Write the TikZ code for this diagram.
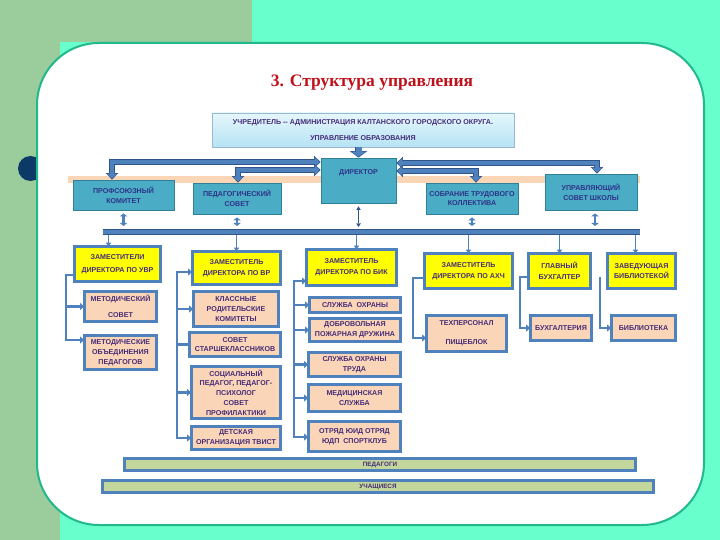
\documentclass[tikz,border=0pt]{standalone}
\usepackage{fontspec}
\setmainfont{Liberation Serif}
\newfontfamily\boxfont{Liberation Sans}
\usepackage{xcolor}
\usepackage{tikz}
\usetikzlibrary{arrows.meta}

\definecolor{bgaqua}{HTML}{69FFCC}
\definecolor{bggreen}{HTML}{9BCC9B}
\definecolor{cardline}{HTML}{1FB98C}
\definecolor{navy}{HTML}{0B3A66}
\definecolor{titlered}{HTML}{C0101A}
\definecolor{tealfill}{HTML}{4BACC6}
\definecolor{tealline}{HTML}{31809A}
\definecolor{tealtext}{HTML}{2E3288}
\definecolor{bandpeach}{HTML}{FAD6B6}
\definecolor{arrowfill}{HTML}{4F81BD}
\definecolor{arrowline}{HTML}{2F5489}
\definecolor{boxyellow}{HTML}{FFFF00}
\definecolor{boxpeach}{HTML}{FBD5B7}
\definecolor{barfill}{HTML}{C3D69B}
\definecolor{textpurple}{HTML}{452C78}
\definecolor{foundtop}{HTML}{E6F7FC}
\definecolor{foundbot}{HTML}{B5E3F4}
\definecolor{foundline}{HTML}{9AB9D0}

\tikzset{
  boxtext/.style={font=\boxfont\bfseries\fontsize{7.1}{9.8}\selectfont, text=textpurple, align=center, inner sep=0pt},
  tealbox/.style={boxtext, fill=tealfill, draw=tealline, line width=0.8pt, text=tealtext},
  yellowbox/.style={boxtext, fill=boxyellow, draw=arrowline, double=arrowfill, double distance=2.2pt, line width=0.6pt},
  peachbox/.style={boxtext, fill=boxpeach, draw=arrowline, double=arrowfill, double distance=2.2pt, line width=0.6pt},
  greenbar/.style={boxtext, font=\boxfont\bfseries\fontsize{6.3}{7}\selectfont, fill=barfill, draw=arrowline, double=arrowfill, double distance=2.2pt, line width=0.6pt},
  founder/.style={boxtext, top color=foundtop, bottom color=foundbot, draw=foundline, line width=0.6pt},
  bigarrow/.style={draw=arrowfill, line width=3.8pt, line join=miter,
    {Triangle[width=10pt,length=5pt,line width=0pt]}-{Triangle[width=10pt,length=5pt,line width=0pt]},
    shorten <=1pt, shorten >=1pt,
    preaction={draw=arrowline, line width=5.6pt, shorten <=0pt, shorten >=0pt,
      {Triangle[width=12.5pt,length=6.5pt,line width=0pt]}-{Triangle[width=12.5pt,length=6.5pt,line width=0pt]}}},
  feedarrow/.style={draw=arrowfill, line width=6pt,
    -{Triangle[width=15pt,length=5pt,line width=0pt]}, shorten >=1pt,
    preaction={draw=arrowline, line width=7.6pt, shorten >=0pt,
      -{Triangle[width=17.5pt,length=6.5pt,line width=0pt]}}},
  updown/.style={draw=arrowfill, line width=2.8pt, shorten <=3pt, shorten >=3pt,
    {Triangle[width=7.5pt,length=3pt,line width=0pt]}-{Triangle[width=7.5pt,length=3pt,line width=0pt]}},
  thinupdown/.style={draw=arrowline, line width=1.2pt, shorten <=3pt, shorten >=2pt,
    {Triangle[width=4.5pt,length=3.5pt,line width=0pt]}-{Triangle[width=4.5pt,length=3.5pt,line width=0pt]}},
  busbar/.style={draw=arrowfill, line width=4pt, preaction={draw=arrowline, line width=5.6pt}},
  tick/.style={draw=arrowfill, line width=1.6pt, -{Triangle[width=5.5pt,length=3.5pt,line width=0pt]}},
  spine/.style={draw=arrowfill, line width=2.8pt, line join=miter},
  spinearrow/.style={spine, -{Triangle[width=7pt,length=4pt,line width=0pt]}},
  spinearrows/.style={spine, {Triangle[width=7pt,length=4pt,line width=0pt]}-{Triangle[width=7pt,length=4pt,line width=0pt]}}
}

\begin{document}
\begin{tikzpicture}[x=1pt,y=-1pt]
\useasboundingbox (0,0) rectangle (720,540);
\fill[bgaqua] (0,0) rectangle (720,540);
\fill[bggreen] (0,0) rectangle (252,42);
\fill[bggreen] (0,0) rectangle (60,540);
\fill[navy] (30.5,168.5) circle (12.5);
\draw[cardline, fill=white, line width=2pt, rounded corners=62pt] (37,43) rectangle (704,525);

\node[font=\bfseries\fontsize{17.5}{19}\selectfont, text=titlered] (title) at (372,83) {3. Структура управления};

\fill[bandpeach] (68,176) rectangle (640,183);

\node[founder, minimum width=302, minimum height=34] (found) at (363,130)
  {УЧРЕДИТЕЛЬ -- АДМИНИСТРАЦИЯ КАЛТАНСКОГО ГОРОДСКОГО ОКРУГА.\\[7pt]УПРАВЛЕНИЕ ОБРАЗОВАНИЯ};
\node[tealbox, minimum width=75, minimum height=45] (dir) at (358.5,180.5) {\smash{\raisebox{6pt}{ДИРЕКТОР}}};
\node[tealbox, minimum width=101, minimum height=30] (prof) at (123.5,195) {ПРОФСОЮЗНЫЙ\\КОМИТЕТ};
\node[tealbox, minimum width=88, minimum height=31] (pedsov) at (237,198.5) {ПЕДАГОГИЧЕСКИЙ\\СОВЕТ};
\node[tealbox, minimum width=92, minimum height=31] (sobr) at (472,198.5) {СОБРАНИЕ ТРУДОВОГО\\КОЛЛЕКТИВА};
\node[tealbox, minimum width=92, minimum height=36] (upr) at (591,192) {УПРАВЛЯЮЩИЙ\\СОВЕТ ШКОЛЫ};

\draw[feedarrow] (found.south -| dir.north) -- (dir.north);
\coordinate (profturn) at (112,162);
\coordinate (pedturn) at (238,170);
\coordinate (uprturn) at (597,163);
\coordinate (sobrturn) at (476,171);
\draw[bigarrow] (prof.north -| profturn) -- (profturn) -- (dir.west |- profturn);
\draw[bigarrow] (pedsov.north -| pedturn) -- (pedturn) -- (dir.west |- pedturn);
\draw[bigarrow] (upr.north -| uprturn) -- (uprturn) -- (dir.east |- uprturn);
\draw[bigarrow] (sobr.north -| sobrturn) -- (sobrturn) -- (dir.east |- sobrturn);

\coordinate (busL) at (103,232);
\coordinate (busR) at (640,232);
\coordinate (bustop) at (0,229);
\coordinate (busbot) at (0,235);
\draw[busbar] (busL) -- (busR);
\draw[updown] (prof.south) -- (prof.south |- bustop);
\draw[updown] (pedsov.south) -- (pedsov.south |- bustop);
\draw[thinupdown] (dir.south) -- (dir.south |- bustop);
\draw[updown] (sobr.south) -- (sobr.south |- bustop);
\draw[updown] ([xshift=4pt]upr.south) -- ([xshift=4pt]upr.south |- bustop);

\node[yellowbox, minimum width=86, minimum height=35] (uvr) at (117.5,264) {ЗАМЕСТИТЕЛИ\\[3pt]ДИРЕКТОРА ПО УВР};
\node[yellowbox, minimum width=88, minimum height=33] (vr) at (236.5,268) {ЗАМЕСТИТЕЛЬ\\[1pt]ДИРЕКТОРА ПО ВР};
\node[yellowbox, minimum width=90, minimum height=36] (bik) at (351.5,267.5) {ЗАМЕСТИТЕЛЬ\\[1pt]ДИРЕКТОРА ПО БИК};
\node[yellowbox, minimum width=88, minimum height=35] (axc) at (468.5,271) {ЗАМЕСТИТЕЛЬ\\[1pt]ДИРЕКТОРА ПО АХЧ};
\node[yellowbox, minimum width=62, minimum height=35] (glav) at (559.5,271) {ГЛАВНЫЙ\\[1pt]БУХГАЛТЕР};
\node[yellowbox, minimum width=68, minimum height=35] (zav) at (641.5,271) {ЗАВЕДУЮЩАЯ\\[1pt]БИБЛИОТЕКОЙ};

\draw[tick] ([xshift=-9pt]uvr.north |- busbot) -- ([xshift=-9pt]uvr.north);
\draw[tick] (vr.north |- busbot) -- (vr.north);
\draw[tick] ([xshift=5pt]bik.north |- busbot) -- ([xshift=5pt]bik.north);
\draw[tick] (axc.north |- busbot) -- (axc.north);
\draw[tick] (glav.north |- busbot) -- (glav.north);
\draw[tick] ([xshift=-6pt]zav.north |- busbot) -- ([xshift=-6pt]zav.north);

\node[peachbox, minimum width=72, minimum height=30] (metsov) at (120.5,306.5) {МЕТОДИЧЕСКИЙ\\[6pt]СОВЕТ};
\node[peachbox, minimum width=72, minimum height=34] (metob) at (120.5,352.5) {МЕТОДИЧЕСКИЕ\\ОБЪЕДИНЕНИЯ\\ПЕДАГОГОВ};
\node[peachbox, minimum width=85, minimum height=35] (klass) at (236,309) {КЛАССНЫЕ\\РОДИТЕЛЬСКИЕ\\КОМИТЕТЫ};
\node[peachbox, minimum width=91, minimum height=24] (starsh) at (235,344.5) {СОВЕТ\\СТАРШЕКЛАССНИКОВ};
\node[peachbox, minimum width=89, minimum height=52] (social) at (236,392.5) {СОЦИАЛЬНЫЙ\\ПЕДАГОГ, ПЕДАГОГ-\\ПСИХОЛОГ\\СОВЕТ\\ПРОФИЛАКТИКИ};
\node[peachbox, minimum width=89, minimum height=23] (detsk) at (236,438) {ДЕТСКАЯ\\ОРГАНИЗАЦИЯ ТВИСТ};
\node[peachbox, minimum width=91, minimum height=15] (sluzh) at (355,305) {СЛУЖБА~~ОХРАНЫ};
\node[peachbox, minimum width=91, minimum height=23] (dobr) at (355,330) {ДОБРОВОЛЬНАЯ\\ПОЖАРНАЯ ДРУЖИНА};
\node[peachbox, minimum width=92, minimum height=24] (trud) at (354.5,364.5) {СЛУЖБА ОХРАНЫ\\ТРУДА};
\node[peachbox, minimum width=92, minimum height=27] (med) at (354.5,398) {МЕДИЦИНСКАЯ\\СЛУЖБА};
\node[peachbox, minimum width=92, minimum height=30] (otryad) at (354.5,436.5) {ОТРЯД ЮИД ОТРЯД\\ЮДП~~СПОРТКЛУБ};
\node[peachbox, minimum width=80, minimum height=36] (tex) at (466.5,333.5) {ТЕХПЕРСОНАЛ\\[9pt]ПИЩЕБЛОК};
\node[peachbox, minimum width=61, minimum height=25] (buh) at (561,328) {БУХГАЛТЕРИЯ};
\node[peachbox, minimum width=64, minimum height=25] (bib) at (643.5,328) {БИБЛИОТЕКА};

\coordinate (uvrtop) at (66,275);
\coordinate (uvrbot) at (66,340);
\draw[spinearrow] (uvr.west |- uvrtop) -- (uvrtop) -- (uvrbot) -- (metob.west |- uvrbot);
\draw[spinearrow] (uvrtop |- metsov.west) -- (metsov.west);

\coordinate (vrtop) at (177,272);
\coordinate (vrbot) at (177,438);
\draw[spinearrows] (detsk.west |- vrbot) -- (vrbot) -- (vrtop) -- (vr.west |- vrtop);
\draw[spinearrow] (vrtop |- klass.west) -- (klass.west);
\draw[spine] (vrtop |- starsh.west) -- (starsh.west);
\draw[spinearrow] (vrtop |- social.west) -- (social.west);

\coordinate (biktop) at (294,281);
\coordinate (bikbot) at (294,437);
\draw[spinearrows] (otryad.west |- bikbot) -- (bikbot) -- (biktop) -- (bik.west |- biktop);
\draw[spinearrow] (biktop |- sluzh.west) -- (sluzh.west);
\draw[spinearrow] (biktop |- dobr.west) -- (dobr.west);
\draw[spinearrow] (biktop |- trud.west) -- (trud.west);
\draw[spinearrow] (biktop |- med.west) -- (med.west);

\coordinate (axcturn) at (413,278);
\coordinate (texin) at (413,338);
\draw[spinearrow] (axc.west |- axcturn) -- (axcturn) -- (texin) -- (tex.west |- texin);
\coordinate (glavturn) at (520,277);
\draw[spinearrow] (glav.west |- glavturn) -- (glavturn) |- (buh.west);
\coordinate (bibstart) at (600,277);
\draw[spinearrow] (bibstart) |- (bib.west);

\node[greenbar, minimum width=511, minimum height=12] (ped) at (380,464.5) {ПЕДАГОГИ};
\node[greenbar, minimum width=551, minimum height=12] (uch) at (378,486.5) {УЧАЩИЕСЯ};
\end{tikzpicture}
\end{document}
